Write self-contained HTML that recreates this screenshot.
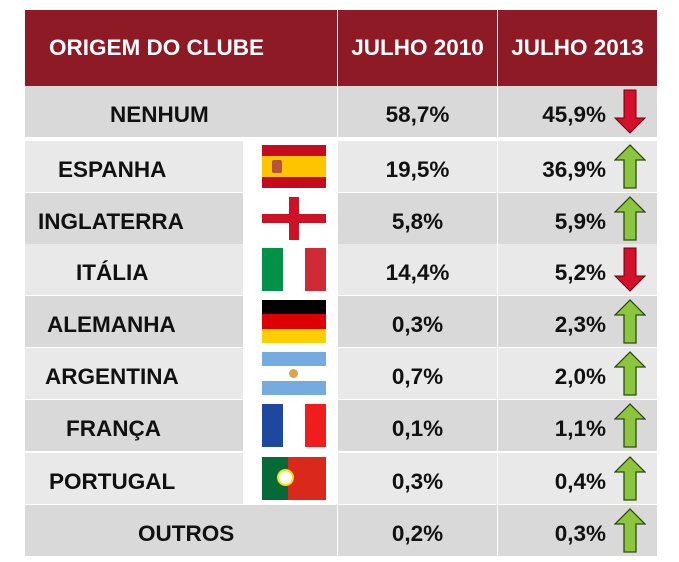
<!DOCTYPE html>
<html><head><meta charset="utf-8"><style>
body{margin:0;width:679px;height:562px;background:#fff;position:relative;overflow:hidden;font-family:"Liberation Sans",Arial,sans-serif;font-weight:bold;}
.a{position:absolute;}
.h{background:#8d1a25;color:#fff;font-size:22.5px;line-height:76px;top:10px;height:76px;}
.r{position:absolute;left:25px;width:632px;height:51px;}
.t{position:absolute;font-size:22.5px;color:#111;line-height:57px;}
.fl{position:absolute;left:243px;width:94px;height:51px;background:#fff;}
.flag{position:absolute;left:262px;width:64px;height:43px;}
</style></head><body>
<div class="a h" style="left:25px;width:312px;"><span style="padding-left:24px">ORIGEM DO CLUBE</span></div>
<div class="a h" style="left:338px;width:159px;text-align:center">JULHO 2010</div>
<div class="a h" style="left:498px;width:159px;text-align:center">JULHO 2013</div>

<div id="rows"></div>
<script>
var rows=[
["NENHUM",110,"58,7%","45,9%",0,null],
["ESPANHA",58,"19,5%","36,9%",1,'<div style="height:25%;background:#c60b1e"></div><div style="height:50%;background:#ffc400;position:relative"><div style="position:absolute;left:10px;top:4px;width:10px;height:13px;background:#b5543a;border-radius:2px"></div></div><div style="height:25%;background:#c60b1e"></div>'],
["INGLATERRA",38,"5,8%","5,9%",1,'<div style="position:absolute;left:0;top:0;width:64px;height:43px;background:#fff"></div><div style="position:absolute;left:27px;top:0;width:10px;height:43px;background:#ce1124"></div><div style="position:absolute;left:0;top:17px;width:64px;height:9px;background:#ce1124"></div>'],
["ITÁLIA",76,"14,4%","5,2%",0,'<div style="display:flex;height:100%"><div style="flex:1;background:#009246"></div><div style="flex:1;background:#fff"></div><div style="flex:1;background:#ce2b37"></div></div>'],
["ALEMANHA",47,"0,3%","2,3%",1,'<div style="height:33.3%;background:#000"></div><div style="height:33.3%;background:#d00"></div><div style="height:33.4%;background:#ffce00"></div>'],
["ARGENTINA",45,"0,7%","2,0%",1,'<div style="height:33.3%;background:#74acdf"></div><div style="height:33.3%;background:#fff;position:relative"><div style="position:absolute;left:27px;top:3px;width:9px;height:9px;border-radius:50%;background:#d9a44a"></div></div><div style="height:33.4%;background:#74acdf"></div>'],
["FRANÇA",66,"0,1%","1,1%",1,'<div style="display:flex;height:100%"><div style="flex:1;background:#1d48a0"></div><div style="flex:1;background:#fff"></div><div style="flex:1;background:#f01d1d"></div></div>'],
["PORTUGAL",49,"0,3%","0,4%",1,'<div style="display:flex;height:100%;position:relative"><div style="flex:2;background:#046a38"></div><div style="flex:3;background:#da291c"></div><div style="position:absolute;left:15px;top:12px;width:17px;height:17px;border-radius:50%;border:2px solid #ffe000;background:#fff;box-sizing:border-box"></div></div>'],
["OUTROS",138,"0,2%","0,3%",1,null]];
var tops=[86,141,193,244,296,348,400,453,505];
var h="";
rows.forEach(function(r,i){
 var y=tops[i],bg=i%2==0?"#d9d9d9":"#e9e9e9";
 h+='<div class="r" style="top:'+y+'px;background:'+bg+'"></div>';
 h+='<div class="a" style="left:337px;top:'+y+'px;width:1px;height:51px;background:#fff"></div>';
 h+='<div class="a" style="left:497px;top:'+y+'px;width:1px;height:51px;background:#fff"></div>';
 if(r[5]){h+='<div class="fl" style="top:'+y+'px"></div><div class="flag" style="top:'+(y+4)+'px;overflow:hidden">'+r[5]+'</div>';}
 h+='<div class="t" style="top:'+y+'px;left:'+r[1]+'px">'+r[0]+'</div>';
 h+='<div class="t" style="top:'+y+'px;left:338px;width:159px;text-align:center">'+r[2]+'</div>';
 h+='<div class="t" style="top:'+y+'px;left:498px;width:108px;text-align:right">'+r[3]+'</div>';
 if(r[4]) h+='<svg class="a" style="left:614px;top:'+(y+3)+'px" width="32" height="46"><polygon points="16,1 31,16 22,16 22,44 10,44 10,16 1,16" fill="#8cc63f" stroke="#2e4a12" stroke-width="1.3"/></svg>';
 else h+='<svg class="a" style="left:614px;top:'+(y+3)+'px" width="32" height="46"><polygon points="10,1 22,1 22,29 31,29 16,44 1,29 10,29" fill="#d5102a" stroke="#6b0010" stroke-width="1"/></svg>';
 h+='<div class="a" style="left:25px;top:'+(y+51)+'px;width:632px;height:1px;background:#fff"></div>';
});
document.getElementById("rows").innerHTML=h;
</script>
</body></html>
